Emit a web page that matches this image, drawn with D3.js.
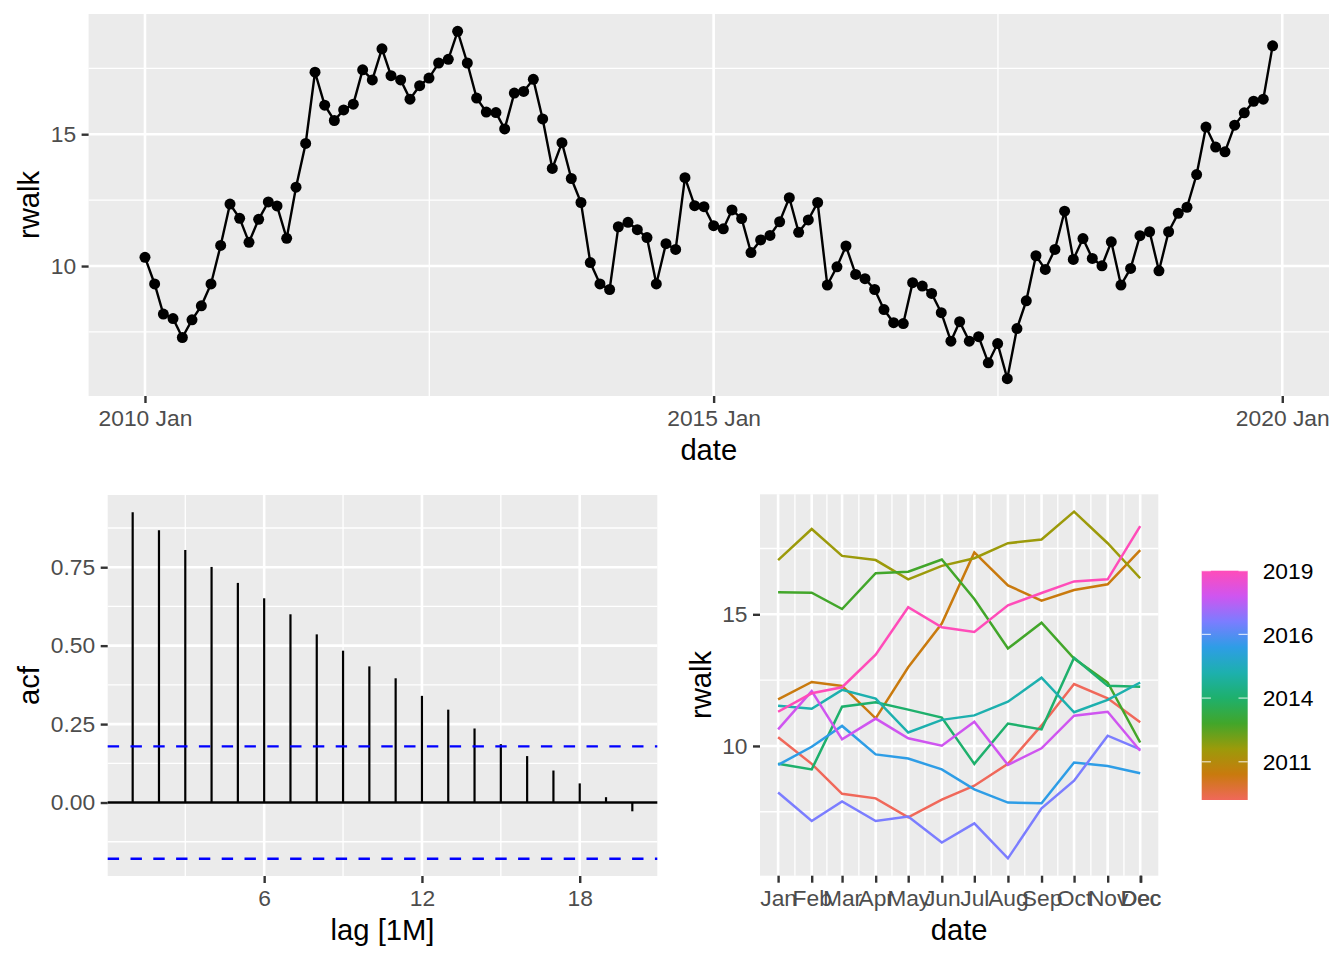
<!DOCTYPE html>
<html>
<head>
<meta charset="utf-8">
<script src="https://cdn.jsdelivr.net/npm/d3@7"></script>
<style>
  body { margin: 0; background: #fff; }
  text { font-family: "Liberation Sans", Arial, Helvetica, sans-serif; }
</style>
</head>
<body>
<svg id="chart" width="1344" height="960"></svg>
<script>
// monthly random walk, 2010 Jan .. 2019 Dec
const rwalk = [
  10.33, 9.32, 8.18, 8.01, 7.29, 7.96, 8.49, 9.32, 10.78, 12.35, 11.81, 10.90,
  11.77, 12.43, 12.28, 11.05, 12.99, 14.65, 17.35, 16.10, 15.52, 15.92, 16.14, 17.44,
  17.06, 18.24, 17.22, 17.06, 16.33, 16.84, 17.13, 17.70, 17.84, 18.90, 17.70, 16.37,
  15.84, 15.82, 15.20, 16.56, 16.62, 17.08, 15.58, 13.70, 14.68, 13.32, 12.41, 10.13,
  9.32, 9.11, 11.49, 11.66, 11.38, 11.08, 9.32, 10.85, 10.63, 13.35, 12.29, 12.25,
  11.53, 11.41, 12.13, 11.80, 10.51, 10.99, 11.16, 11.68, 12.59, 11.28, 11.75, 12.41,
  9.28, 9.97, 10.76, 9.68, 9.52, 9.11, 8.35, 7.85, 7.82, 9.37, 9.24, 8.96,
  8.23, 7.15, 7.89, 7.15, 7.32, 6.33, 7.06, 5.73, 7.63, 8.68, 10.39, 9.87,
  10.63, 12.08, 10.25, 11.04, 10.29, 10.01, 10.92, 9.28, 9.91, 11.15, 11.30, 9.82,
  11.30, 12.00, 12.23, 13.47, 15.27, 14.51, 14.33, 15.34, 15.81, 16.25, 16.33, 18.35
];
const startYear = 2010;
const years = [2010, 2011, 2012, 2013, 2014, 2015, 2016, 2017, 2018, 2019];
const yearColours = ["#F0685A", "#C97A0E", "#9C9A0A", "#42A62A", "#1EB06C",
                     "#1DB0AE", "#2E9DE6", "#7B7DFF", "#CF55F0", "#FF4CB9"];

const acfLags = [1, 2, 3, 4, 5, 6, 7, 8, 9, 10, 11, 12, 13, 14, 15, 16, 17, 18, 19, 20];
const acfValues = [0.925, 0.868, 0.805, 0.751, 0.700, 0.651, 0.600, 0.536, 0.484, 0.434,
                   0.396, 0.340, 0.296, 0.236, 0.186, 0.148, 0.102, 0.061, 0.017, -0.028];
const acfCI = 0.179;

const monthLabels = ["Jan", "Feb", "Mar", "Apr", "May", "Jun", "Jul", "Aug", "Sep", "Oct", "Nov", "Dec"];
const topTickYears = [2010, 2015, 2020];
const rwalkTicks = [10, 15];
const rwalkMinor = [7.5, 12.5, 17.5];
const acfTicks = [0, 0.25, 0.5, 0.75];
const acfMinor = [-0.125, 0.125, 0.375, 0.625, 0.875];
const lagTicks = [6, 12, 18];
const lagMinor = [3, 9, 15];
const legendBreaks = [2011.5, 2014, 2016.5, 2019];
const legendLabels = ["2011", "2014", "2016", "2019"];

const FONT_TICK = 22.8, FONT_TITLE = 29.2;
const BG = "#EBEBEB";

const svg = d3.select("#chart");
svg.append("rect").attr("width", 1344).attr("height", 960).attr("fill", "#fff");

function expand(ext, f = 0.05) {
  const a = +ext[0], b = +ext[1], d = (b - a) * f;
  return [a - d, b + d];
}

function styleAxis(g) {
  g.attr("font-size", FONT_TICK).attr("font-family", null);
  g.select(".domain").remove();
  g.selectAll(".tick line").attr("stroke", "#333333").attr("stroke-width", 2.4);
  g.selectAll(".tick text").attr("fill", "#4D4D4D");
}

function panelBg(x0, y0, x1, y1) {
  svg.append("rect").attr("x", x0).attr("y", y0)
    .attr("width", x1 - x0).attr("height", y1 - y0).attr("fill", BG);
}

function hGrid(g, y, vals, x0, x1, w) {
  g.selectAll(null).data(vals).enter().append("line")
    .attr("x1", x0).attr("x2", x1)
    .attr("y1", d => y(d)).attr("y2", d => y(d))
    .attr("stroke", "#fff").attr("stroke-width", w);
}

function vGrid(g, x, vals, y0, y1, w) {
  g.selectAll(null).data(vals).enter().append("line")
    .attr("y1", y0).attr("y2", y1)
    .attr("x1", d => x(d)).attr("x2", d => x(d))
    .attr("stroke", "#fff").attr("stroke-width", w);
}

function title(x, y, txt, rotate) {
  const t = svg.append("text")
    .attr("font-size", FONT_TITLE).attr("fill", "#000")
    .attr("text-anchor", "middle").text(txt);
  if (rotate) {
    t.attr("transform", `translate(${x},${y}) rotate(-90)`).attr("dy", "0.36em");
  } else {
    t.attr("x", x).attr("y", y);
  }
}

const yExt = expand(d3.extent(rwalk));

// ---------- top: time plot ----------
(function () {
  const L = 88.6, R = 1329, T = 14, B = 396;
  const dates = rwalk.map((v, i) => new Date(Date.UTC(startYear, i, 1)));
  const x = d3.scaleUtc().domain(expand(d3.extent(dates)).map(d => new Date(d))).range([L, R]);
  const y = d3.scaleLinear().domain(yExt).range([B, T]);
  const tickDates = topTickYears.map(yr => new Date(Date.UTC(yr, 0, 1)));
  const minorDates = d3.pairs(tickDates).map(([a, b]) => new Date((+a + +b) / 2));

  panelBg(L, T, R, B);
  const grid = svg.append("g");
  hGrid(grid, y, rwalkMinor, L, R, 1.3);
  vGrid(grid, x, minorDates, T, B, 1.3);
  hGrid(grid, y, rwalkTicks, L, R, 2.6);
  vGrid(grid, x, tickDates, T, B, 2.6);

  svg.append("path").datum(rwalk)
    .attr("fill", "none").attr("stroke", "#000").attr("stroke-width", 2.4)
    .attr("d", d3.line().x((d, i) => x(dates[i])).y(d => y(d)));
  svg.append("g").selectAll("circle").data(rwalk).enter().append("circle")
    .attr("cx", (d, i) => x(dates[i])).attr("cy", d => y(d))
    .attr("r", 5.5).attr("fill", "#000");

  svg.append("g").attr("transform", `translate(${L},0)`)
    .call(d3.axisLeft(y).tickValues(rwalkTicks).tickSize(7).tickPadding(5.5))
    .call(styleAxis);
  svg.append("g").attr("transform", `translate(0,${B})`)
    .call(d3.axisBottom(x).tickValues(tickDates).tickSize(7).tickPadding(6.8)
      .tickFormat(d => d.getUTCFullYear() + " Jan"))
    .call(styleAxis);

  title(28, (T + B) / 2, "rwalk", true);
  title((L + R) / 2, 459.5, "date", false);
})();

// ---------- bottom left: ACF ----------
(function () {
  const L = 107.7, R = 657.3, T = 495, B = 876;
  const x = d3.scaleLinear().domain(expand(d3.extent(acfLags))).range([L, R]);
  const y = d3.scaleLinear()
    .domain(expand([Math.min(-acfCI, d3.min(acfValues)), Math.max(acfCI, d3.max(acfValues))]))
    .range([B, T]);

  panelBg(L, T, R, B);
  const grid = svg.append("g");
  hGrid(grid, y, acfMinor, L, R, 1.3);
  vGrid(grid, x, lagMinor, T, B, 1.3);
  hGrid(grid, y, acfTicks, L, R, 2.6);
  vGrid(grid, x, lagTicks, T, B, 2.6);

  svg.append("g").selectAll("line").data(acfLags).enter().append("line")
    .attr("x1", d => x(d)).attr("x2", d => x(d))
    .attr("y1", y(0)).attr("y2", (d, i) => y(acfValues[i]))
    .attr("stroke", "#000").attr("stroke-width", 2.2);
  svg.append("line").attr("x1", L).attr("x2", R)
    .attr("y1", y(0)).attr("y2", y(0))
    .attr("stroke", "#000").attr("stroke-width", 2.4);
  svg.append("g").selectAll("line").data([acfCI, -acfCI]).enter().append("line")
    .attr("x1", L).attr("x2", R)
    .attr("y1", d => y(d)).attr("y2", d => y(d))
    .attr("stroke", "#0000FF").attr("stroke-width", 2.4)
    .attr("stroke-dasharray", "11.4,11.4");

  svg.append("g").attr("transform", `translate(${L},0)`)
    .call(d3.axisLeft(y).tickValues(acfTicks).tickSize(7).tickPadding(5.5).tickFormat(d3.format(".2f")))
    .call(styleAxis);
  svg.append("g").attr("transform", `translate(0,${B})`)
    .call(d3.axisBottom(x).tickValues(lagTicks).tickSize(7).tickPadding(6.8))
    .call(styleAxis);

  title(28, (T + B) / 2, "acf", true);
  title((L + R) / 2, 940, "lag [1M]", false);
})();

// ---------- bottom right: seasonal plot ----------
(function () {
  const L = 760, R = 1158.3, T = 494.3, B = 875.7;
  const refYear = 2010;
  const monthDates = monthLabels.map((m, i) => new Date(Date.UTC(refYear, i, 1)));
  const x = d3.scaleUtc().domain(expand(d3.extent(monthDates)).map(d => new Date(d))).range([L, R]);
  const y = d3.scaleLinear().domain(yExt).range([B, T]);
  const minorDates = d3.pairs(monthDates).map(([a, b]) => new Date((+a + +b) / 2));

  panelBg(L, T, R, B);
  const grid = svg.append("g");
  hGrid(grid, y, rwalkMinor, L, R, 1.3);
  vGrid(grid, x, minorDates, T, B, 1.3);
  hGrid(grid, y, rwalkTicks, L, R, 2.6);
  vGrid(grid, x, monthDates, T, B, 2.6);

  const line = d3.line().x((d, i) => x(monthDates[i])).y(d => y(d));
  svg.append("g").selectAll("path").data(years).enter().append("path")
    .attr("fill", "none")
    .attr("stroke", (d, i) => yearColours[i])
    .attr("stroke-width", 2.5)
    .attr("d", (d, i) => line(rwalk.slice(i * 12, i * 12 + 12)));

  svg.append("g").attr("transform", `translate(${L},0)`)
    .call(d3.axisLeft(y).tickValues(rwalkTicks).tickSize(7).tickPadding(5.5))
    .call(styleAxis);
  const xa = svg.append("g").attr("transform", `translate(0,${B})`)
    .call(d3.axisBottom(x).tickValues(monthDates).tickSize(7).tickPadding(6.8)
      .tickFormat((d, i) => monthLabels[i]))
    .call(styleAxis);
  // the last break is drawn twice in the original, so "Dec" looks heavier
  const dec = monthDates[11];
  xa.append("line").attr("x1", x(dec) + 1).attr("x2", x(dec) + 1).attr("y1", 0).attr("y2", 7)
    .attr("stroke", "#333333").attr("stroke-width", 2.4);
  xa.append("text").attr("x", x(dec) + 1).attr("y", 13.8).attr("dy", "0.71em")
    .attr("text-anchor", "middle").attr("fill", "#4D4D4D").text(monthLabels[11]);

  title(700, (T + B) / 2, "rwalk", true);
  title((L + R) / 2, 940, "date", false);

  // colour bar legend
  const bx = 1201.7, bw = 46, bTop = 570.7, bBot = 800;
  const ly = d3.scaleLinear().domain(d3.extent(years)).range([bBot, bTop]);
  const grad = svg.append("defs").append("linearGradient").attr("id", "yearGrad")
    .attr("x1", 0).attr("y1", 1).attr("x2", 0).attr("y2", 0);
  grad.selectAll("stop").data(years).enter().append("stop")
    .attr("offset", d => (d - years[0]) / (years[years.length - 1] - years[0]))
    .attr("stop-color", (d, i) => yearColours[i]);
  svg.append("rect").attr("x", bx).attr("y", bTop).attr("width", bw).attr("height", bBot - bTop)
    .attr("fill", "url(#yearGrad)");
  const tk = svg.append("g");
  legendBreaks.forEach(b => {
    [[bx, bx + bw / 5], [bx + bw - bw / 5, bx + bw]].forEach(([a, c]) => {
      tk.append("line").attr("x1", a).attr("x2", c).attr("y1", ly(b)).attr("y2", ly(b))
        .attr("stroke", "#fff").attr("stroke-opacity", 0.75).attr("stroke-width", 1.2);
    });
  });
  svg.append("g").selectAll("text").data(legendBreaks).enter().append("text")
    .attr("x", 1262.7).attr("y", d => ly(d)).attr("dy", "0.36em")
    .attr("font-size", FONT_TICK).attr("fill", "#000")
    .text((d, i) => legendLabels[i]);
})();
</script>
</body>
</html>
